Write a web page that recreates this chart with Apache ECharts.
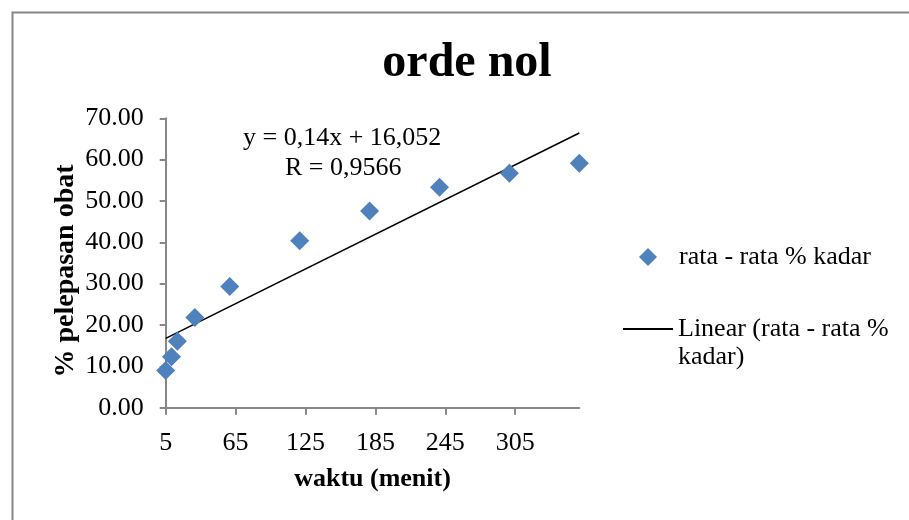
<!DOCTYPE html>
<html>
<head>
<meta charset="utf-8">
<script src="https://cdn.jsdelivr.net/npm/echarts@6/dist/echarts.min.js"></script>
<style>html,body{margin:0;padding:0;background:#fff;}#c{width:909px;height:520px;}</style>
</head>
<body>
<div id="c"></div>
<script>
// Data
const waktu = [5, 10, 15, 30, 60, 120, 180, 240, 300, 360];
const kadar = [9.0, 12.3, 16.1, 21.8, 29.3, 40.4, 47.6, 53.3, 56.7, 59.1];
const xTickLabels = [5, 65, 125, 185, 245, 305];
const yTickLabels = [0, 10, 20, 30, 40, 50, 60, 70];
// Trendline (Excel linear fit shown on the chart)
const trendSlope = 0.14;
const trendIntercept = 16.052;
const trendRange = [5, 360];
const eqText = 'y = 0,14x + 16,052';
const rText = 'R = 0,9566';
const seriesName = 'rata - rata % kadar';
const trendName = 'Linear (rata - rata % kadar)';

const font = 'Liberation Serif';
const chart = echarts.init(document.getElementById('c'));
const scatterData = waktu.map((x, i) => [x, kadar[i]]);
const trendData = trendRange.map(x => [x, trendSlope * x + trendIntercept]);

chart.setOption({
  animation: false,
  backgroundColor: '#fff',
  title: {
    text: 'orde nol', left: 462, top: 35, textAlign: 'center',
    textStyle: { fontFamily: font, fontWeight: 'bold', fontSize: 48, color: '#000' }
  },
  grid: { left: 165.7, right: 329.7, top: 118.3, bottom: 112.3, containLabel: false },
  legend: [
    {
      data: [{ name: seriesName, icon: 'diamond' }],
      left: 634, top: 239, itemWidth: 18, itemHeight: 18, itemGap: 0,
      textStyle: { fontFamily: font, fontSize: 26, color: '#000', padding: [0, 0, 0, 17] }
    },
    {
      data: [{ name: trendName, icon: 'path://M0,0L0,0M0,13L50,13L50,15L0,15ZM0,56L0,56', itemStyle: { color: '#000' } }],
      left: 618, top: 310, itemWidth: 50, itemHeight: 56,
      formatter: () => 'Linear (rata - rata %\nkadar)',
      textStyle: { fontFamily: font, fontSize: 26, color: '#000', lineHeight: 28 }
    }
  ],
  xAxis: {
    type: 'value', min: 5, max: 360,
    name: 'waktu (menit)', nameLocation: 'middle', nameGap: 59,
    nameTextStyle: { fontFamily: font, fontWeight: 'bold', fontSize: 26, color: '#000' },
    axisLine: { lineStyle: { color: '#888', width: 2 } },
    axisTick: { show: true, length: 7, lineStyle: { color: '#888', width: 2 }, customValues: xTickLabels },
    axisLabel: { customValues: xTickLabels, margin: 22, fontFamily: font, fontSize: 26, color: '#000' },
    splitLine: { show: false }
  },
  yAxis: {
    type: 'value', min: 0, max: 70, interval: 10,
    name: '% pelepasan obat', nameLocation: 'middle', nameGap: 86, nameRotate: 90,
    nameTextStyle: { fontFamily: font, fontWeight: 'bold', fontSize: 28, color: '#000', padding: [0, 16, 0, 0] },
    axisLine: { show: true, lineStyle: { color: '#888', width: 2 } },
    axisTick: { show: true, length: 6, lineStyle: { color: '#888', width: 2 } },
    axisLabel: { margin: 22, fontFamily: font, fontSize: 26, color: '#000', formatter: v => v.toFixed(2) },
    splitLine: { show: false }
  },
  series: [
    {
      name: seriesName, type: 'scatter', data: scatterData,
      symbol: 'diamond', symbolSize: 19,
      itemStyle: { color: '#4F81BD', opacity: 1 }, z: 3
    },
    {
      name: trendName, type: 'line', data: trendData,
      symbol: 'none', lineStyle: { color: '#000', width: 1.5 },
      itemStyle: { color: '#000' }, z: 2
    }
  ],
  graphic: [
    { type: 'rect', left: 10, top: 10, shape: { width: 1000, height: 1000 },
      style: { fill: 'none', stroke: '#878787', lineWidth: 2 }, silent: true, z: -1 },
    { type: 'text', left: 243, top: 125,
      style: { text: eqText, font: '26px "Liberation Serif"', fill: '#000' } },
    { type: 'text', left: 285, top: 155,
      style: { text: rText, font: '26px "Liberation Serif"', fill: '#000' } }
  ]
});
</script>
</body>
</html>
